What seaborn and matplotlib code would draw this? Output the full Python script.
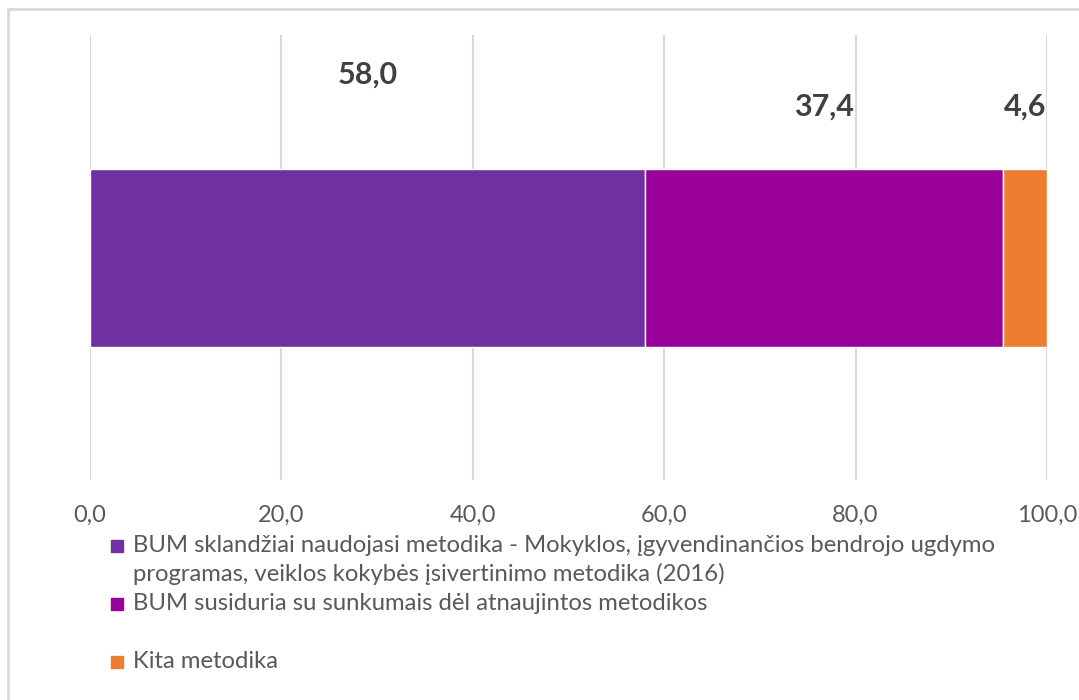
import matplotlib.pyplot as plt
import matplotlib.patches as mpatches
import pandas as pd
import seaborn as sns

# data
categories = ['BUM sklandžiai naudojasi metodika - Mokyklos, įgyvendinančios bendrojo ugdymo\nprogramas, veiklos kokybės įsivertinimo metodika (2016)',
              'BUM susiduria su sunkumais dėl atnaujintos metodikos',
              'Kita metodika']
values = [58.0, 37.4, 4.6]
colors = ['#7030A0', '#990099', '#ED7D31']
ticks = [0, 20, 40, 60, 80, 100]

sns.set_style('white')
plt.rcParams['font.family'] = ['Lato', 'DejaVu Sans']

fig = plt.figure(figsize=(10.79, 7), dpi=100)
ax = fig.add_axes([90 / 1079, 1 - 480 / 700, (1047 - 90) / 1079, 445 / 700])

# stacked bar drawn segment by segment, each starting where the previous ended
df = pd.DataFrame({'cat': categories, 'value': values, 'color': colors})
df['left'] = df['value'].cumsum() - df['value']
for i, row in df.iterrows():
    ax.barh(0, row['value'], left=row['left'], height=0.4, color=row['color'], zorder=3)

# value labels above segments
label_y = [0.41, 0.338, 0.338]
for i, row in df.iterrows():
    ax.text(row['left'] + row['value'] / 2, label_y[i], f"{row['value']:.1f}".replace('.', ','),
            ha='center', va='center', fontsize=22, fontweight='bold', color='#404040', zorder=4)

ax.set_xlim(0, 100)
ax.set_ylim(-0.5, 0.5)
ax.set_xticks(ticks)
ax.set_xticklabels([f"{t:.1f}".replace('.', ',') for t in ticks])
ax.set_yticks([])
ax.xaxis.grid(True, color='#D9D9D9', linewidth=1.5, zorder=0)
ax.tick_params(axis='x', length=0, pad=18, labelsize=17, labelcolor='#595959')
for s in ax.spines.values():
    s.set_visible(False)

# legend drawn by hand to match the uneven spacing
leg_y = [546, 604, 662]
for c, lab, y in zip(colors, categories, leg_y):
    fig.patches.append(mpatches.Rectangle((111 / 1079, 1 - (y + 6) / 700), 12 / 1079, 12 / 700,
                                          transform=fig.transFigure, color=c))
    fig.text(133 / 1079, 1 - (y - 11) / 700, lab, ha='left', va='top', fontsize=17.2,
             color='#595959', linespacing=1.37)

# outer chart border
fig.patches.append(mpatches.Rectangle((8 / 1079, -0.05), 1.1, 1 - 9 / 700 + 0.05,
                                      transform=fig.transFigure, fill=False,
                                      edgecolor='#D9D9D9', linewidth=2))

fig.savefig('out.png', dpi=100)
